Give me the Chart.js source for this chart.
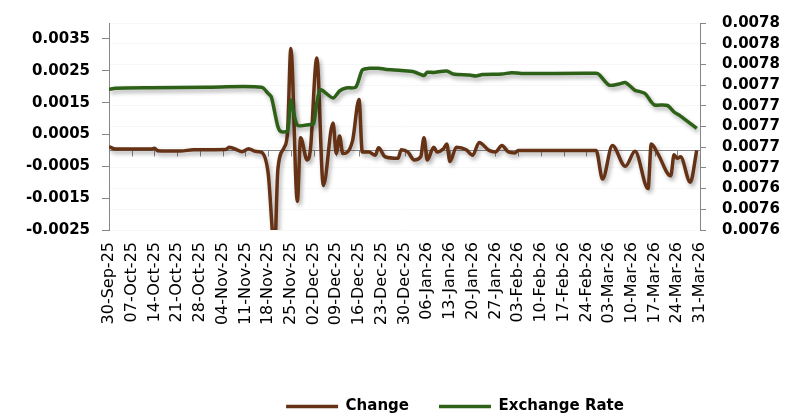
<!DOCTYPE html>
<html>
<head>
<meta charset="utf-8">
<script src="https://cdn.jsdelivr.net/npm/chart.js@4/dist/chart.umd.min.js"></script>
<style>
  html, body { margin: 0; padding: 0; background: #ffffff; }
  #wrap { width: 798px; height: 419px; }
</style>
</head>
<body>
<div id="wrap"><canvas id="fx" width="798" height="419"></canvas></div>
<script>
// Daily change of the exchange rate (left axis)
const changeDates = [
  '2025-09-30','2025-10-02','2025-10-13','2025-10-14','2025-10-15','2025-10-22','2025-10-26',
  '2025-11-05','2025-11-06','2025-11-09','2025-11-10','2025-11-12','2025-11-14','2025-11-16',
  '2025-11-18','2025-11-20','2025-11-21','2025-11-23','2025-11-24','2025-11-25','2025-11-27',
  '2025-11-28','2025-11-30','2025-12-01','2025-12-03','2025-12-05','2025-12-08','2025-12-09',
  '2025-12-10','2025-12-11','2025-12-14','2025-12-16','2025-12-17','2025-12-19','2025-12-21',
  '2025-12-22','2025-12-24','2025-12-28','2025-12-29','2025-12-31','2026-01-02','2026-01-04',
  '2026-01-05','2026-01-06','2026-01-08','2026-01-09','2026-01-11','2026-01-12','2026-01-13',
  '2026-01-15','2026-01-18','2026-01-20','2026-01-22','2026-01-25','2026-01-27','2026-01-29',
  '2026-01-31','2026-02-02','2026-02-03','2026-02-26','2026-02-27','2026-03-01','2026-03-04',
  '2026-03-08','2026-03-11','2026-03-15','2026-03-16','2026-03-18','2026-03-22','2026-03-23',
  '2026-03-24','2026-03-25','2026-03-28','2026-03-30'
];
const changeValues = [
  0.00012, 0.00004, 0.00004, 0.00007, -0.00001, -0.00002, 0.00002,
  0.00003, 0.0001, -0.00001, -0.00004, 0.00005, -0.00003, -0.00006,
  -0.0007, -0.0031, -0.0006, 0.0001, 0.0006, 0.0032, -0.0016,
  0.0004, -0.0003, 0.0, 0.0029, -0.0011, 0.00086, -0.0001,
  0.00045, -0.0001, 0.0003, 0.0016, -0.00005, -0.00005, -0.00015,
  0.00008, -0.0002, -0.00025, 0.00002, -0.00005, -0.0003, -0.0002,
  0.0004, -0.0003, 0.0001, -0.00005, 0.00005, 0.0002, -0.00035,
  0.0001, 0.00002, -0.00015, 0.00025, 0.0, -0.00005, 0.00015,
  -0.00005, -0.00008, 0.0, 0.0, 0.0, -0.0009, 0.00015,
  -0.0005, -0.00003, -0.0012, 0.0002, -0.0001, -0.0008, -0.00014,
  -0.00025, -0.0002, -0.001, 0.0
];

// Exchange rate (right axis)
const rateDates = [
  '2025-09-30','2025-10-02','2025-10-13','2025-10-30','2025-11-16','2025-11-18','2025-11-19',
  '2025-11-21','2025-11-22','2025-11-24','2025-11-25','2025-11-27','2025-12-01','2025-12-02',
  '2025-12-04','2025-12-08','2025-12-10','2025-12-12','2025-12-15','2025-12-17','2025-12-19',
  '2025-12-22','2025-12-24','2025-12-29','2026-01-02','2026-01-05','2026-01-06','2026-01-08',
  '2026-01-12','2026-01-14','2026-01-19','2026-01-21','2026-01-23','2026-01-29','2026-02-01',
  '2026-02-04','2026-02-27','2026-02-28','2026-03-03','2026-03-06','2026-03-08','2026-03-10',
  '2026-03-11','2026-03-14','2026-03-16','2026-03-17','2026-03-21','2026-03-23','2026-03-25',
  '2026-03-30'
];
const rateValues = [
  0.007736, 0.007737, 0.0077375, 0.007738, 0.007738, 0.007732, 0.0077285,
  0.0077, 0.007695, 0.007696, 0.0077256, 0.0077014, 0.007702, 0.0077024,
  0.0077353, 0.0077275, 0.0077343, 0.0077372, 0.0077381, 0.0077546, 0.0077562,
  0.0077562, 0.0077553, 0.007754, 0.0077527, 0.0077493, 0.0077524, 0.0077522,
  0.0077536, 0.0077507, 0.0077497, 0.0077488, 0.0077502, 0.0077507, 0.007752,
  0.0077512, 0.0077514, 0.00775, 0.00774, 0.007741, 0.0077425, 0.0077375,
  0.007735, 0.007732, 0.0077237, 0.0077208, 0.0077203, 0.007714, 0.0077101,
  0.0076982
];

// Weekly date labels on the horizontal axis
const tickLabels = [
  '30-Sep-25','07-Oct-25','14-Oct-25','21-Oct-25','28-Oct-25','04-Nov-25','11-Nov-25',
  '18-Nov-25','25-Nov-25','02-Dec-25','09-Dec-25','16-Dec-25','23-Dec-25','30-Dec-25',
  '06-Jan-26','13-Jan-26','20-Jan-26','27-Jan-26','03-Feb-26','10-Feb-26','17-Feb-26',
  '24-Feb-26','03-Mar-26','10-Mar-26','17-Mar-26','24-Mar-26','31-Mar-26'
];
const changeTicks = [-0.0025, -0.0015, -0.0005, 0.0005, 0.0015, 0.0025, 0.0035];
const rateTicks = [0.0076, 0.00762, 0.00764, 0.00766, 0.00768, 0.0077, 0.00772, 0.00774, 0.00776, 0.00778, 0.0078];

const DAY = 86400000;
const startDate = '2025-09-30';
const dayIndex = s => (Date.parse(s + 'T00:00:00Z') - Date.parse(startDate + 'T00:00:00Z')) / DAY;
const toPoints = (dates, vals) => dates.map((d, i) => ({ x: dayIndex(d), y: vals[i] }));

const BROWN = '#663216';
const GREEN = '#2E6118';
const AXIS = '#868686';
const FONT = '"DejaVu Sans", "Open Sans", sans-serif';

// soft drop shadow under both lines
const lineShadow = {
  id: 'lineShadow',
  beforeDatasetDraw(chart) {
    const c = chart.ctx;
    c.save();
    c.shadowColor = 'rgba(0,0,0,0.32)';
    c.shadowBlur = 4;
    c.shadowOffsetX = 2;
    c.shadowOffsetY = 3;
  },
  afterDatasetDraw(chart) { chart.ctx.restore(); }
};

// category axis line crossing at zero of the change axis, with weekly tick marks
const zeroAxis = {
  id: 'zeroAxis',
  beforeDatasetsDraw(chart) {
    const { ctx, chartArea, scales } = chart;
    const y0 = Math.round(scales.y.getPixelForValue(0)) + 0.5;
    ctx.save();
    ctx.strokeStyle = AXIS;
    ctx.lineWidth = 1;
    ctx.beginPath();
    ctx.moveTo(chartArea.left, y0);
    ctx.lineTo(chartArea.right, y0);
    scales.x.ticks.forEach(t => {
      const x = Math.round(scales.x.getPixelForValue(t.value)) + 0.5;
      ctx.moveTo(x, y0);
      ctx.lineTo(x, y0 + 6);
    });
    ctx.stroke();
    ctx.restore();
  }
};

// place the legend row under the plot
const legendShift = {
  id: 'legendShift',
  afterLayout(chart) {
    const l = chart.legend;
    l.left += 56; l.right += 56;
    l.top += 5; l.bottom += 5;
  }
};

Chart.defaults.font.family = FONT;
Chart.defaults.color = '#000000';

new Chart(document.getElementById('fx'), {
  type: 'line',
  data: {
    datasets: [
      {
        label: 'Change',
        data: toPoints(changeDates, changeValues),
        yAxisID: 'y',
        borderColor: BROWN,
        backgroundColor: BROWN,
        borderWidth: 3.5,
        pointRadius: 0,
        cubicInterpolationMode: 'monotone',
        order: 1
      },
      {
        label: 'Exchange Rate',
        data: toPoints(rateDates, rateValues),
        yAxisID: 'y1',
        borderColor: GREEN,
        backgroundColor: GREEN,
        borderWidth: 3.5,
        pointRadius: 0,
        tension: 0.25,
        order: 0
      }
    ]
  },
  options: {
    responsive: false,
    animation: false,
    events: [],
    layout: { padding: { top: 23, left: 0, right: 0, bottom: 0 } },
    scales: {
      x: {
        type: 'linear',
        min: 0,
        max: (tickLabels.length - 1) * 7,
        afterBuildTicks: s => { s.ticks = tickLabels.map((_, i) => ({ value: i * 7 })); },
        afterFit: s => { s.height = 134; },
        grid: { display: false, drawTicks: false },
        border: { display: false },
        ticks: {
          autoSkip: false,
          minRotation: 90,
          maxRotation: 90,
          padding: 12,
          font: { size: 16 },
          callback: (v, i) => tickLabels[i]
        }
      },
      y: {
        position: 'left',
        min: -0.0025,
        max: 0.004,
        afterBuildTicks: s => { s.ticks = changeTicks.map(v => ({ value: v })); },
        afterFit: s => { s.width = 109; s.paddingTop = 0; s.paddingBottom = 0; },
        grid: { drawOnChartArea: false, color: AXIS, tickLength: 7 },
        border: { display: true, color: AXIS, width: 1 },
        ticks: {
          autoSkip: false,
          padding: 12,
          font: { size: 15, weight: 'bold' },
          callback: v => v.toFixed(4)
        }
      },
      y1: {
        position: 'right',
        min: 0.0076,
        max: 0.0078,
        afterBuildTicks: s => { s.ticks = rateTicks.map(v => ({ value: v })); },
        afterFit: s => { s.width = 98; s.paddingTop = 0; s.paddingBottom = 0; },
        grid: {
          drawOnChartArea: true,
          color: 'rgba(0,0,0,0.03)',
          tickColor: AXIS,
          tickLength: 6
        },
        border: { display: true, color: AXIS, width: 1 },
        ticks: {
          autoSkip: false,
          padding: 16,
          font: { size: 15, weight: 'bold' },
          callback: v => v.toFixed(4)
        }
      }
    },
    plugins: {
      legend: {
        position: 'bottom',
        labels: {
          usePointStyle: true,
          pointStyle: 'line',
          pointStyleWidth: 52,
          padding: 30,
          font: { size: 15, weight: 'bold' },
          sort: (a, b) => a.datasetIndex - b.datasetIndex
        }
      },
      tooltip: { enabled: false }
    }
  },
  plugins: [lineShadow, zeroAxis, legendShift]
});
</script>
</body>
</html>
